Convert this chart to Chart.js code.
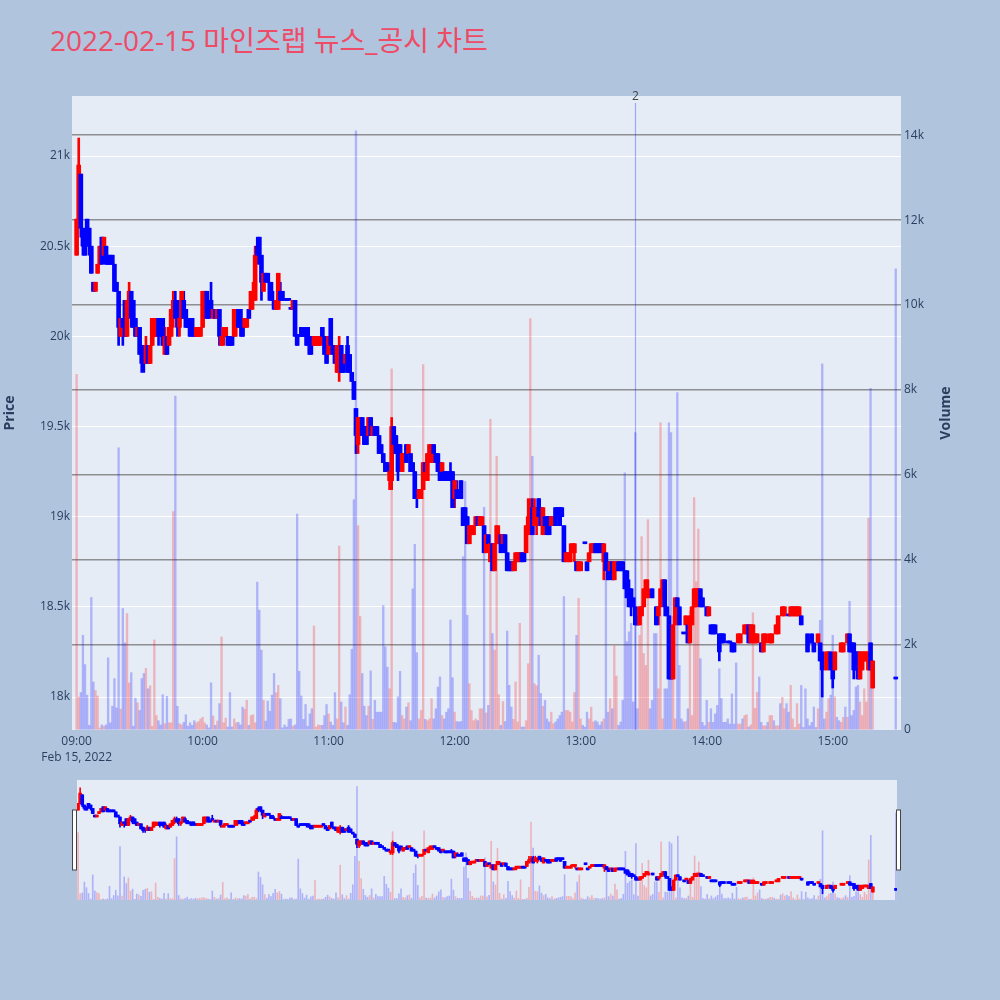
<!DOCTYPE html>
<html>
<head>
<meta charset="utf-8">
<script src="https://cdn.jsdelivr.net/npm/chart.js@4.4.0/dist/chart.umd.min.js"></script>
<style>
html,body{margin:0;padding:0;background:#b0c4de;width:1000px;height:1000px;overflow:hidden}
#title{position:absolute;left:50px;top:24px;font-family:"Open Sans","Noto Sans CJK KR",sans-serif;font-size:28px;line-height:32px;color:#ee4b66;white-space:nowrap}
#mainWrap{position:absolute;left:0;top:0;width:1000px;height:770px}
#sliderWrap{position:absolute;left:0;top:770px;width:1000px;height:140px}
</style>
</head>
<body>
<div id="title">2022-02-15 마인즈랩 뉴스_공시 차트</div>
<div id="mainWrap"><canvas id="main"></canvas></div>
<div id="sliderWrap"><canvas id="slider"></canvas></div>
<script>
// ---------------- DATA ----------------
const dateLabel = "Feb 15, 2022";
const times = [
"09:00","09:01","09:02","09:03","09:04","09:05","09:06","09:07","09:08","09:09",
"09:10","09:11","09:12","09:13","09:14","09:15","09:16","09:17","09:18","09:19",
"09:20","09:21","09:22","09:23","09:24","09:25","09:26","09:27","09:28","09:29",
"09:30","09:31","09:32","09:33","09:34","09:35","09:36","09:37","09:38","09:39",
"09:40","09:41","09:42","09:43","09:44","09:45","09:46","09:47","09:48","09:49",
"09:50","09:51","09:52","09:53","09:54","09:55","09:56","09:57","09:58","09:59",
"10:00","10:01","10:02","10:03","10:04","10:05","10:06","10:07","10:08","10:09",
"10:10","10:11","10:12","10:13","10:14","10:15","10:16","10:17","10:18","10:19",
"10:20","10:21","10:22","10:23","10:24","10:25","10:26","10:27","10:28","10:29",
"10:30","10:31","10:32","10:33","10:34","10:35","10:36","10:37","10:38","10:39",
"10:40","10:41","10:42","10:43","10:44","10:45","10:46","10:47","10:48","10:49",
"10:50","10:51","10:52","10:53","10:54","10:55","10:56","10:57","10:58","10:59",
"11:00","11:01","11:02","11:03","11:04","11:05","11:06","11:07","11:08","11:09",
"11:10","11:11","11:12","11:13","11:14","11:15","11:16","11:17","11:18","11:19",
"11:20","11:21","11:22","11:23","11:24","11:25","11:26","11:27","11:28","11:29",
"11:30","11:31","11:32","11:33","11:34","11:35","11:36","11:37","11:38","11:39",
"11:40","11:41","11:42","11:43","11:44","11:45","11:46","11:47","11:48","11:49",
"11:50","11:51","11:52","11:53","11:54","11:55","11:56","11:57","11:58","11:59",
"12:00","12:01","12:02","12:03","12:04","12:05","12:06","12:07","12:08","12:09",
"12:10","12:11","12:12","12:13","12:14","12:15","12:16","12:17","12:18","12:19",
"12:20","12:21","12:22","12:23","12:24","12:25","12:26","12:27","12:28","12:29",
"12:30","12:31","12:32","12:33","12:34","12:35","12:36","12:37","12:38","12:39",
"12:40","12:41","12:42","12:43","12:44","12:45","12:46","12:47","12:48","12:49",
"12:50","12:51","12:52","12:53","12:54","12:55","12:56","12:57","12:58","12:59",
"13:00","13:01","13:02","13:03","13:04","13:05","13:06","13:07","13:08","13:09",
"13:10","13:11","13:12","13:13","13:14","13:15","13:16","13:17","13:18","13:19",
"13:20","13:21","13:22","13:23","13:24","13:25","13:26","13:27","13:28","13:29",
"13:30","13:31","13:32","13:33","13:34","13:35","13:36","13:37","13:38","13:39",
"13:40","13:41","13:42","13:43","13:44","13:45","13:46","13:47","13:48","13:49",
"13:50","13:51","13:52","13:53","13:54","13:55","13:56","13:57","13:58","13:59",
"14:00","14:01","14:02","14:03","14:04","14:05","14:06","14:07","14:08","14:09",
"14:10","14:11","14:12","14:13","14:14","14:15","14:16","14:17","14:18","14:19",
"14:20","14:21","14:22","14:23","14:24","14:25","14:26","14:27","14:28","14:29",
"14:30","14:31","14:32","14:33","14:34","14:35","14:36","14:37","14:38","14:39",
"14:40","14:41","14:42","14:43","14:44","14:45","14:46","14:47","14:48","14:49",
"14:50","14:51","14:52","14:53","14:54","14:55","14:56","14:57","14:58","14:59",
"15:00","15:01","15:02","15:03","15:04","15:05","15:06","15:07","15:08","15:09",
"15:10","15:11","15:12","15:13","15:14","15:15","15:16","15:17","15:18","15:19",
"15:30"];
const openP = [
20450,20650,20900,20600,20550,20650,20600,20500,20300,20250,
20350,20400,20550,20450,20500,20450,20450,20450,20400,20300,
20250,20000,20100,20200,20000,20150,20250,20200,20100,20000,
20050,19950,19900,19850,19950,19850,19950,20000,20000,20100,
20050,20100,19900,20000,19950,20000,20100,20200,20200,20050,
20100,20200,20150,20100,20100,20100,20050,20000,20000,20000,
20050,20150,20250,20150,20200,20100,20150,20100,20150,19950,
20000,20000,20000,20000,20000,20000,20050,20150,20150,20100,
20050,20050,20150,20150,20200,20200,20500,20550,20450,20250,
20350,20350,20300,20250,20200,20150,20150,20250,20250,20200,
20200,20200,20150,20150,20200,20000,20000,20050,20050,20050,
20050,20000,20000,19950,19950,19950,19950,20050,20000,19900,
19900,20100,19950,19950,19800,19800,19950,19900,19850,19950,
19900,19800,19750,19600,19400,19450,19550,19500,19500,19450,
19550,19450,19500,19500,19450,19400,19350,19300,19300,19200,
19200,19500,19450,19400,19400,19250,19300,19400,19350,19350,
19300,19250,19150,19100,19100,19150,19300,19200,19300,19300,
19400,19350,19350,19300,19250,19250,19250,19250,19250,19250,
19100,19150,19150,19200,19050,19050,19000,18850,18900,18900,
18950,19000,18950,18950,18950,18800,18900,18750,18850,18700,
18850,18850,18900,18850,18900,18800,18750,18750,18700,18750,
18750,18750,18800,18800,18800,18900,18950,19050,18950,18950,
19100,19050,18900,19000,19000,19000,18950,18950,19050,19050,
19050,19050,18950,18750,18750,18750,18800,18800,18750,18700,
18700,null,18850,18750,18750,18800,18800,18850,18850,18850,
18850,18750,18800,18750,18700,18750,18650,18700,18750,18750,
18750,18700,18700,18600,18600,18550,18500,18450,18400,18450,
18500,18600,18550,null,18600,null,18500,18450,18500,18550,
18650,18500,18450,18200,18100,18400,18550,18500,null,18350,
18400,18400,18300,18400,18500,18500,18550,18600,18550,null,
18500,18450,18400,18400,18400,null,18350,18350,18350,null,
18300,18300,18300,18300,null,18300,18300,null,18350,18350,
18400,18300,18300,18300,18300,null,18300,18250,18300,null,
18300,18300,null,18350,18350,null,18450,18450,null,18450,
18450,18450,18450,18450,18450,18450,null,null,18350,18300,
18350,18300,null,18300,18300,18250,null,18150,18200,18250,
18200,18150,null,null,18250,18250,null,18300,18350,18300,
18300,18250,18250,18100,18150,18200,18200,18150,18300,18050,
18100];
const highP = [
20650,21100,20900,20600,20550,20650,20600,20500,20300,20300,
20400,20500,20550,20550,20500,20450,20450,20450,20400,20300,
20250,20100,20100,20200,20200,20300,20250,20200,20100,20050,
20050,19950,19900,20000,19950,19950,20100,20100,20100,20100,
20100,20100,20050,20000,20050,20150,20250,20250,20200,20100,
20250,20250,20150,20100,20100,20100,20050,20050,20050,20050,
20250,20250,20250,20150,20300,20150,20150,20150,20150,20000,
20050,20050,20000,20000,20000,20150,20150,20150,20150,20100,
20100,20100,20150,20250,20300,20500,20550,20550,20450,20350,
20350,20350,20300,20300,20200,20200,20350,20300,20250,20200,
20200,20200,20150,20200,20200,20000,20000,20050,20050,20050,
20050,20000,20000,20000,20000,20000,20000,20050,20000,19950,
20000,20100,19950,19950,19950,20000,19950,19900,19900,20000,
19900,19800,19750,19600,19550,19550,19550,19500,19500,19550,
19550,19500,19500,19500,19450,19400,19350,19300,19300,19250,
19550,19500,19450,19400,19400,19350,19350,19400,19400,19350,
19300,19250,19150,19150,19150,19300,19300,19350,19400,19400,
19400,19350,19350,19300,19300,19250,19250,19250,19300,19250,
19200,19200,19150,19200,19050,19050,19000,18950,18950,18950,
19000,19000,19000,19000,18950,18900,18900,18850,18850,18850,
18950,18950,18900,18900,18900,18800,18750,18750,18750,18800,
18800,18800,18800,18800,18950,19100,19100,19100,19100,19050,
19100,19050,19050,19000,19000,19000,19000,19000,19050,19050,
19050,19050,18950,18800,18800,18850,18850,18850,18750,18750,
18750,null,18850,18750,18800,18850,18850,18850,18850,18850,
18850,18850,18800,18750,18750,18750,18750,18750,18750,18750,
18750,18700,18700,18650,18600,18550,18500,18450,18500,18500,
18600,18650,18650,null,18600,null,18500,18500,18600,18650,
18650,18500,18450,18200,18400,18550,18550,18500,null,18350,
18450,18400,18450,18500,18600,18600,18600,18600,18550,null,
18500,18500,18400,18400,18400,null,18350,18350,18350,null,
18300,18300,18300,18300,null,18350,18350,null,18400,18400,
18400,18400,18400,18350,18350,null,18300,18350,18350,null,
18350,18350,null,18400,18450,null,18500,18500,null,18450,
18500,18500,18500,18500,18500,18450,null,null,18350,18300,
18350,18300,null,18350,18300,18250,null,18250,18250,18250,
18200,18250,null,null,18300,18300,null,18350,18350,18300,
18300,18250,18250,18250,18250,18250,18250,18250,18300,18200,
18100];
const lowP = [
20450,20650,20550,20450,20450,20500,20450,20350,20250,20250,
20350,20400,20400,20450,20400,20400,20400,20400,20250,20250,
19950,20000,19950,20000,20000,20150,20050,20050,20000,20000,
19900,19800,19800,19850,19850,19850,19950,20000,20000,19950,
20000,19950,19900,19900,19950,20000,20050,20100,20000,20000,
20100,20100,20050,20050,20000,20000,20000,20000,20000,20000,
20050,20100,20100,20100,20150,20100,20100,20100,19950,19950,
19950,20000,19950,19950,19950,20000,20000,20050,20000,20000,
20050,20050,20100,20150,20150,20200,20400,20400,20200,20250,
20300,20300,20200,20200,20150,20150,20150,20200,20200,20200,
20200,20200,20150,20150,20000,19950,20000,20000,20000,19950,
19950,19900,19900,19950,19950,19950,19950,20000,19900,19850,
19900,19950,19900,19850,19800,19750,19800,19800,19850,19800,
19800,19750,19650,19350,19350,19450,19450,19400,19400,19450,
19450,19450,19450,19450,19350,19350,19300,19250,19250,19150,
19150,19400,19350,19200,19300,19250,19300,19300,19350,19250,
19250,19100,19050,19100,19100,19150,19250,19200,19300,19300,
19350,19300,19250,19200,19250,19200,19200,19200,19200,19050,
19050,19100,19100,19100,18950,18950,18850,18850,18900,18900,
18950,18950,18950,18950,18800,18800,18850,18750,18700,18700,
18850,18850,18800,18850,18800,18700,18700,18700,18700,18700,
18750,18750,18750,18750,18800,18900,18950,18900,18950,18900,
19000,18950,18900,18950,18900,18900,18950,18950,18950,19000,
18950,19000,18750,18750,18750,18750,18800,18750,18700,18700,
18700,null,18850,18700,18750,18800,18800,18800,18800,18800,
18800,18650,18700,18650,18700,18650,18650,18700,18700,18700,
18700,18600,18550,18500,18450,18500,18400,18400,18400,18450,
18500,18550,18550,null,18550,null,18400,18400,18500,18550,
18450,18450,18100,18100,18100,18400,18500,18400,null,18350,
18400,18300,18300,18400,18500,18500,18550,18500,18500,null,
18450,18450,18350,18350,18350,null,18200,18300,18300,null,
18300,18300,18250,18250,null,18300,18300,null,18350,18350,
18300,18300,18300,18300,18300,null,18250,18250,18300,null,
18300,18300,null,18350,18350,null,18450,18450,null,18450,
18450,18450,18450,18450,18450,18400,null,null,18250,18300,
18300,18250,null,18300,18200,18000,null,18150,18200,18150,
18050,18150,null,null,18250,18250,null,18300,18250,18250,
18100,18150,18100,18100,18150,18200,18200,18150,18150,18050,
18100];
const closeP = [
20650,20950,20600,20500,20450,20550,20500,20350,20250,20300,
20400,20500,20400,20550,20400,20400,20400,20400,20250,20250,
20050,20100,20050,20000,20200,20250,20100,20050,20000,20050,
19900,19850,19850,19950,19850,19950,20100,20100,20050,20000,
20000,19950,20000,19900,20050,20150,20200,20100,20050,20100,
20250,20100,20050,20050,20000,20050,20000,20050,20050,20050,
20250,20250,20100,20100,20150,20150,20100,20150,20000,20000,
20050,20050,19950,19950,19950,20150,20150,20050,20050,20000,
20100,20100,20100,20250,20250,20450,20450,20450,20300,20350,
20300,20300,20200,20200,20150,20200,20350,20200,20200,20200,
20200,20200,20150,20200,20000,19950,20000,20000,20000,20000,
19950,19900,19950,20000,20000,20000,20000,20000,19900,19850,
20000,19950,19900,19850,19950,19950,19800,19800,19900,19800,
19800,19750,19650,19450,19550,19550,19450,19400,19400,19550,
19450,19500,19450,19450,19350,19350,19300,19250,19250,19250,
19500,19400,19350,19250,19300,19350,19350,19300,19400,19250,
19250,19100,19100,19150,19150,19300,19250,19350,19400,19400,
19350,19300,19250,19200,19300,19200,19200,19200,19200,19050,
19200,19100,19100,19100,18950,18950,18850,18950,18950,18950,
19000,18950,19000,19000,18800,18900,18850,18850,18700,18850,
18950,18900,18800,18900,18800,18700,18700,18700,18750,18800,
18800,18800,18750,18750,18950,19000,19050,18900,19050,19050,
19000,18950,19050,18950,18900,18900,19000,19000,18950,19000,
18950,19000,18750,18800,18800,18800,18850,18850,18700,18750,
18750,null,18850,18700,18800,18850,18850,18800,18800,18800,
18800,18850,18700,18650,18750,18650,18750,18750,18700,18700,
18700,18600,18550,18500,18500,18500,18400,18400,18500,18500,
18600,18650,18600,null,18550,null,18400,18500,18600,18650,
18500,18450,18100,18100,18400,18550,18500,18400,null,18350,
18450,18300,18450,18500,18600,18600,18600,18500,18500,null,
18450,18500,18350,18350,18350,null,18250,18300,18300,null,
18300,18300,18250,18250,null,18350,18350,null,18400,18400,
18300,18400,18400,18350,18350,null,18250,18350,18350,null,
18350,18350,null,18400,18450,null,18500,18500,null,18450,
18500,18500,18500,18500,18500,18400,null,null,18250,18300,
18300,18250,null,18350,18200,18150,null,18250,18250,18150,
18100,18250,null,null,18300,18300,null,18350,18250,18250,
18150,18150,18100,18250,18250,18250,18250,18250,18150,18200,
18100];
const volume = [
8370,775,880,2230,1540,820,110,3120,1130,930,
800,50,120,90,120,1700,170,560,1210,520,
6640,490,2860,2050,2740,1110,1350,90,750,640,
460,1210,1330,1450,970,1040,90,2120,340,220,
120,830,150,790,170,170,5140,7860,560,150,
120,180,360,90,170,110,220,170,200,260,
300,170,120,50,1110,330,110,210,620,2190,
170,280,70,880,70,260,170,180,120,540,
490,700,110,340,360,170,3480,2820,1880,700,
210,680,440,820,1330,880,1050,740,50,120,
70,250,260,90,120,5080,1380,800,250,600,
90,380,500,2450,70,120,110,110,340,600,
380,190,110,880,260,4330,660,170,540,110,
830,1900,5420,14100,4810,2670,1330,560,340,560,
1390,250,700,420,420,420,2930,1960,1480,970,
8500,180,170,780,1380,340,260,540,640,220,
3320,4370,1820,260,460,8600,250,220,260,740,
260,500,1010,1250,340,260,420,500,2590,1230,
420,200,190,200,4080,5850,2700,1090,460,220,
260,220,500,500,5240,400,580,7310,2270,1880,
6440,830,110,670,200,2330,1050,540,250,1130,
190,2510,70,70,220,1560,9680,6440,1090,1040,
1760,860,560,700,260,190,420,150,190,260,
340,420,3140,460,460,420,190,880,2230,3100,
260,110,70,420,260,540,190,220,190,110,
190,260,3690,420,740,500,1980,1270,110,190,
700,6050,2080,2310,2510,660,7000,500,2230,4550,
1800,1520,4950,500,700,2270,2270,970,7230,260,
970,970,7230,7000,2670,260,7940,1520,260,190,
200,500,2800,340,5470,3490,4730,1680,180,100,
700,180,500,180,380,580,1440,740,180,180,
260,140,850,140,1580,140,140,260,340,360,
70,120,2760,510,890,1250,180,100,100,180,
340,340,220,100,100,620,770,500,620,420,
1050,260,60,620,140,1050,60,970,260,100,
180,540,60,500,2580,8620,260,420,740,820,
2230,780,300,220,180,300,540,300,3030,340,
460,1010,1050,660,340,970,660,4985,8040,1640,
10850];
const timeTicks = ["09:00","10:00","11:00","12:00","13:00","14:00","15:00"];
const priceTicks = [18000,18500,19000,19500,20000,20500,21000];
const volumeTicks = [0,2000,4000,6000,8000,10000,12000,14000];
const newsTimes = ["13:26"];
const newsCounts = ["2"];

// ---------------- BUILD ----------------
const toMin = s => { const p = s.split(':'); return (Number(p[0]) - 9) * 60 + Number(p[1]); };
const UP = '#ff0000', DOWN = '#0000ff';
const UPV = 'rgba(255,0,0,0.24)', DOWNV = 'rgba(0,0,255,0.24)';
const bodyData = [], wickData = [], candleColors = [], volData = [], volColors = [];
times.forEach((t, i) => {
  const x = toMin(t);
  const up = openP[i] != null && closeP[i] > openP[i];
  if (openP[i] != null) {
    bodyData.push({x: x, y: [openP[i], closeP[i]]});
    wickData.push({x: x, y: [lowP[i], highP[i]]});
    candleColors.push(up ? UP : DOWN);
  }
  volData.push({x: x, y: volume[i]});
  volColors.push(up ? UPV : DOWNV);
});

const FONT = '"Open Sans", "Noto Sans", sans-serif';
const TXT = '#2a3f5f';
const PLOT_BG = '#e5ecf6';

const bgPlugin = {
  id: 'plotbg',
  beforeDraw(chart) {
    const a = chart.chartArea, c = chart.ctx;
    c.save(); c.fillStyle = PLOT_BG; c.fillRect(a.left, a.top, a.right - a.left, a.bottom - a.top); c.restore();
  }
};

const axisTitlePlugin = {
  id: 'axisTitles',
  afterDraw(chart) {
    const c = chart.ctx, a = chart.chartArea;
    const cy = (a.top + a.bottom) / 2;
    c.save();
    c.fillStyle = TXT; c.font = 'bold 14px ' + FONT; c.textAlign = 'center'; c.textBaseline = 'middle';
    c.translate(10, cy); c.rotate(-Math.PI / 2); c.fillText('Price', 0, 0);
    c.restore();
    c.save();
    c.fillStyle = TXT; c.font = 'bold 14px ' + FONT; c.textAlign = 'center'; c.textBaseline = 'middle';
    c.translate(946, cy); c.rotate(-Math.PI / 2); c.fillText('Volume', 0, 0);
    c.restore();
  }
};

const newsPlugin = {
  id: 'news',
  afterDatasetsDraw(chart) {
    const c = chart.ctx, a = chart.chartArea, xs = chart.scales.x;
    newsTimes.forEach((t, i) => {
      const x = Math.round(xs.getPixelForValue(toMin(t))) + 0.5;
      c.save();
      c.strokeStyle = 'rgba(0,0,255,0.3)'; c.lineWidth = 1.2;
      c.beginPath(); c.moveTo(x, a.top + 7); c.lineTo(x, a.bottom); c.stroke();
      c.fillStyle = '#444'; c.font = '12px ' + FONT; c.textAlign = 'center'; c.textBaseline = 'middle';
      c.fillText(newsCounts[i], x, a.top + 1);
      c.restore();
    });
  }
};

const mkDatasets = (bodyW, wickW, volW) => [
  {label: 'body', data: bodyData, backgroundColor: candleColors, barThickness: bodyW, minBarLength: 2, grouped: false, order: 0, yAxisID: 'y'},
  {label: 'wick', data: wickData, backgroundColor: candleColors, barThickness: wickW, grouped: false, order: 1, yAxisID: 'y'},
  {label: 'volume', data: volData, backgroundColor: volColors, barThickness: volW, grouped: false, order: 2, yAxisID: 'y2'}
];

new Chart(document.getElementById('main'), {
  type: 'bar',
  data: {datasets: mkDatasets(4, 2, 1.7)},
  options: {
    responsive: true, maintainAspectRatio: false, animation: false,
    layout: {padding: {top: 96, left: 0, right: 0, bottom: 0}},
    plugins: {legend: {display: false}, tooltip: {enabled: false}, title: {display: false}},
    scales: {
      x: {
        type: 'linear', min: -2.2, max: 392.5, offset: false,
        grid: {display: false, drawTicks: false, offset: false}, border: {display: false},
        afterBuildTicks: s => { s.ticks = timeTicks.map(t => ({value: toMin(t)})); },
        afterFit: s => { s.height = 40; },
        ticks: {
          autoSkip: false, maxRotation: 0, padding: 3, color: TXT,
          font: {family: FONT, size: 12, lineHeight: 1.35},
          callback: (v, i) => i === 0 ? [timeTicks[0], dateLabel] : timeTicks[i]
        }
      },
      y: {
        position: 'left', min: 17817, max: 21333,
        afterBuildTicks: s => { s.ticks = priceTicks.map(v => ({value: v})); },
        afterFit: s => { s.width = 72; },
        grid: {color: '#ffffff', lineWidth: 1, drawTicks: false}, border: {display: false},
        ticks: {padding: 2, color: TXT, font: {family: FONT, size: 12}, callback: v => (v / 1000) + 'k'}
      },
      y2: {
        position: 'right', min: 0, max: 14920,
        afterBuildTicks: s => { s.ticks = volumeTicks.map(v => ({value: v})); },
        afterFit: s => { s.width = 99; },
        grid: {color: ctx => ctx.tick && ctx.tick.value === 0 ? 'rgba(0,0,0,0)' : 'rgba(120,120,120,0.8)', lineWidth: 1.5, drawTicks: false}, border: {display: false},
        ticks: {padding: 3, color: TXT, font: {family: FONT, size: 12}, callback: v => v === 0 ? '0' : (v / 1000) + 'k'}
      }
    }
  },
  plugins: [bgPlugin, newsPlugin, axisTitlePlugin]
});

const handlePlugin = {
  id: 'handles',
  afterDraw(chart) {
    const c = chart.ctx, a = chart.chartArea;
    const h = (a.bottom - a.top) / 2, y0 = a.top + h / 2;
    c.save();
    c.fillStyle = '#ffffff'; c.strokeStyle = '#444444'; c.lineWidth = 1;
    c.fillRect(a.left - 4.5, y0, 4, h); c.strokeRect(a.left - 4.5, y0, 4, h);
    c.fillRect(a.right - 0.5, y0, 4, h); c.strokeRect(a.right - 0.5, y0, 4, h);
    c.restore();
  }
};

new Chart(document.getElementById('slider'), {
  type: 'bar',
  data: {datasets: mkDatasets(3, 1, 1)},
  options: {
    responsive: true, maintainAspectRatio: false, animation: false,
    layout: {padding: {top: 10, left: 77, right: 103, bottom: 10}},
    plugins: {legend: {display: false}, tooltip: {enabled: false}},
    scales: {
      x: {type: 'linear', min: -0.5, max: 390.5, offset: false, display: false, grid: {offset: false}},
      y: {min: 17817, max: 21333, display: false},
      y2: {min: 0, max: 14920, display: false}
    }
  },
  plugins: [bgPlugin, handlePlugin]
});
</script>
</body>
</html>
